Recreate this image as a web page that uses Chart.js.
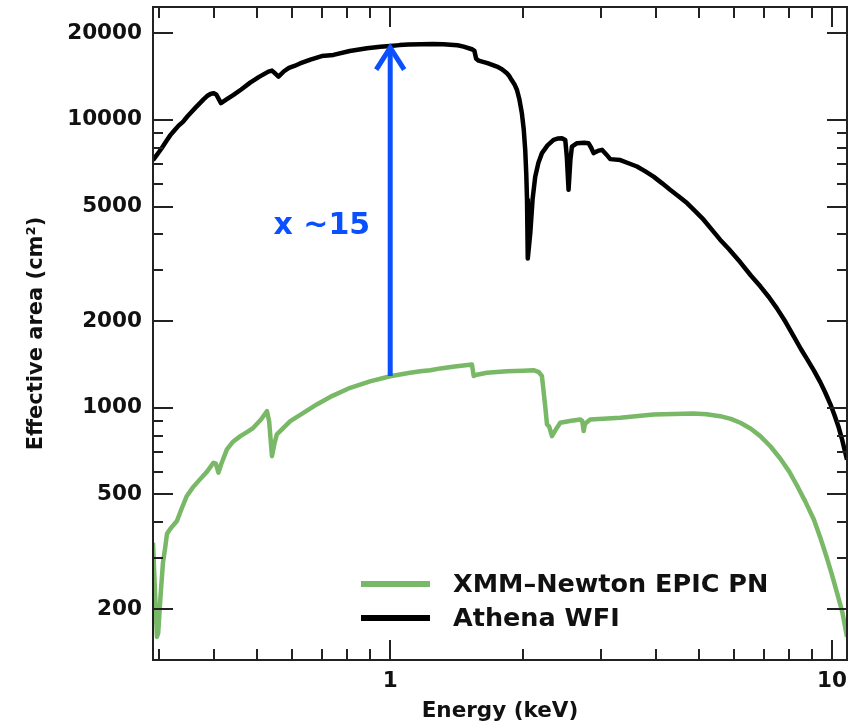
<!DOCTYPE html>
<html><head><meta charset="utf-8">
<script src="https://cdn.jsdelivr.net/npm/chart.js@4"></script>
<style>html,body{margin:0;padding:0;background:#fff}#wrap{width:856px;height:725px}</style>
</head><body><div id="wrap"><canvas id="c" width="856" height="725"></canvas></div>
<script>
// ---- data ----
const athenaEnergy = [0.2905,0.295,0.30,0.306,0.312,0.318,0.325,0.332,0.340,0.347,0.355,0.363,0.371,0.378,0.385,0.392,0.398,0.404,0.414,0.427,0.442,0.46,0.482,0.505,0.530,0.540,0.545,0.5587,0.575,0.59,0.607,0.625,0.66,0.70,0.744,0.81,0.886,0.95,1.0,1.05,1.1,1.17,1.25,1.32,1.367,1.42,1.466,1.531,1.55,1.565,1.585,1.66,1.744,1.79,1.837,1.86,1.88,1.91,1.936,1.96,1.986,2.005,2.021,2.032,2.04,2.048,2.056,2.075,2.10,2.129,2.165,2.205,2.27,2.343,2.40,2.447,2.49,2.51,2.533,2.557,2.578,2.647,2.75,2.81,2.85,2.886,2.95,3.015,3.08,3.148,3.317,3.45,3.618,3.78,3.945,4.12,4.30,4.5,4.696,4.9,5.12,5.35,5.58,5.84,6.20,6.55,6.88,7.2,7.51,7.85,8.19,8.5,8.78,9.1,9.41,9.65,9.91,10.12,10.35,10.55,10.81];
const athenaArea   = [7250,7480,7750,8100,8480,8850,9200,9550,9860,10250,10650,11050,11430,11780,12100,12300,12380,12250,11430,11800,12210,12750,13470,14100,14710,14830,14650,14130,14750,15150,15390,15700,16200,16650,16810,17350,17730,17950,18060,18180,18260,18320,18330,18300,18250,18150,17960,17590,17400,16300,16060,15750,15310,15000,14520,14200,13800,13300,12700,11800,10550,9300,7870,6500,5280,3300,3500,4045,5300,6350,7100,7665,8150,8520,8620,8640,8520,7460,5715,7250,8080,8300,8330,8300,8000,7665,7800,7870,7600,7305,7250,7080,6885,6620,6350,6030,5715,5420,5140,4820,4500,4150,3835,3560,3200,2880,2641,2420,2210,1985,1770,1600,1475,1345,1225,1130,1030,945,855,770,660];
const xmmEnergy = [0.2905,0.2935,0.2965,0.2985,0.302,0.306,0.3094,0.3125,0.318,0.329,0.337,0.3465,0.358,0.371,0.385,0.398,0.403,0.4086,0.415,0.427,0.44,0.458,0.475,0.49,0.51,0.526,0.532,0.540,0.548,0.554,0.594,0.64,0.682,0.74,0.812,0.9,1.0,1.1,1.169,1.232,1.3,1.40,1.531,1.545,1.56,1.655,1.837,2.0,2.11,2.17,2.205,2.243,2.264,2.29,2.323,2.37,2.426,2.55,2.69,2.72,2.74,2.76,2.836,3.317,3.945,4.86,5.2,5.58,5.9,6.20,6.55,6.88,7.25,7.64,8.0,8.33,8.7,9.09,9.4,9.74,10.0,10.26,10.55,10.81];
const xmmArea   = [340,230,160,165,220,290,325,365,380,404,445,494,530,564,600,644,640,595,640,717,760,797,825,852,910,973,900,679,760,808,899,965,1027,1100,1173,1235,1287,1320,1339,1350,1370,1390,1413,1290,1300,1323,1339,1345,1350,1330,1287,1013,875,860,797,840,887,900,911,900,830,880,911,923,948,955,950,935,915,887,845,797,735,665,600,537,472,410,355,300,262,228,195,160];
const xMajorTicks = [1, 10];
const xMinorTicks = [0.3,0.4,0.5,0.6,0.7,0.8,0.9,2,3,4,5,6,7,8,9];
const yMajorTicks = [200,500,1000,2000,5000,10000,20000];
const yMinorTicks = [300,400,600,700,800,900,3000,4000,6000,7000,8000,9000];
const seriesLabels = ['XMM\u2013Newton EPIC PN', 'Athena WFI'];
const ratioArrow = [1, 1290, 18100];   // energy, lower area, upper area
const ratioLabel = 'x ~15';
const ratioLabelArea = 4255;

// ---- styles ----
const FONT = '"DejaVu Sans", Verdana, sans-serif';
const GREEN = '#78b866';
const BLUE = '#0b50ff';

const extras = {
  id: 'extras',
  afterDraw(chart) {
    const {ctx, chartArea: a, scales: {x, y}} = chart;
    ctx.save();
    ctx.strokeStyle = '#222'; ctx.lineWidth = 2;
    ctx.strokeRect(a.left, a.top, a.right - a.left, a.bottom - a.top);
    const tick = (x1, y1, x2, y2) => { ctx.beginPath(); ctx.moveTo(x1, y1); ctx.lineTo(x2, y2); ctx.stroke(); };
    const drawX = (vals, len) => vals.forEach(v => { const p = Math.round(x.getPixelForValue(v));
      tick(p, a.bottom, p, a.bottom - len); tick(p, a.top, p, a.top + len); });
    const drawY = (vals, len) => vals.forEach(v => { const p = Math.round(y.getPixelForValue(v));
      tick(a.left, p, a.left + len, p); tick(a.right, p, a.right - len, p); });
    drawX(xMajorTicks, 20); drawX(xMinorTicks, 11);
    drawY(yMajorTicks, 20); drawY(yMinorTicks, 10);
    // ratio arrow
    const px = x.getPixelForValue(ratioArrow[0]);
    const yFrom = y.getPixelForValue(ratioArrow[1]);
    const yTo = y.getPixelForValue(ratioArrow[2]);
    ctx.strokeStyle = BLUE; ctx.lineWidth = 5; ctx.lineCap = 'butt'; ctx.lineJoin = 'miter';
    tick(px, yFrom, px, yTo + 2);
    ctx.beginPath(); ctx.moveTo(px - 14, yTo + 24); ctx.lineTo(px, yTo + 2); ctx.lineTo(px + 14, yTo + 24); ctx.stroke();
    ctx.fillStyle = BLUE; ctx.font = 'bold 30px ' + FONT; ctx.textAlign = 'right'; ctx.textBaseline = 'middle';
    ctx.fillText(ratioLabel, px - 20, y.getPixelForValue(ratioLabelArea));
    // legend
    const ds = chart.data.datasets;
    const lx0 = a.left + 208, lx1 = a.left + 277, tx = a.left + 300;
    const rows = [a.bottom - 76, a.bottom - 42];
    ds.forEach((d, i) => {
      ctx.strokeStyle = d.borderColor; ctx.lineWidth = 6;
      tick(lx0, rows[i], lx1, rows[i]);
      ctx.fillStyle = '#111'; ctx.font = 'bold 25.5px ' + FONT; ctx.textAlign = 'left'; ctx.textBaseline = 'middle';
      ctx.fillText(d.label, tx, rows[i] + 1);
    });
    ctx.restore();
  }
};

new Chart(document.getElementById('c'), {
  type: 'line',
  data: { datasets: [
    { label: seriesLabels[0], data: xmmEnergy.map((e, i) => ({x: e, y: xmmArea[i]})),
      borderColor: GREEN, borderWidth: 4.5, pointRadius: 0, tension: 0, fill: false, borderJoinStyle: 'round' },
    { label: seriesLabels[1], data: athenaEnergy.map((e, i) => ({x: e, y: athenaArea[i]})),
      borderColor: '#000', borderWidth: 4.5, pointRadius: 0, tension: 0, fill: false, borderJoinStyle: 'round' }
  ]},
  options: {
    responsive: false, animation: false,
    layout: { padding: { top: 7, right: 9, left: 0, bottom: 1 } },
    plugins: { legend: { display: false }, tooltip: { enabled: false } },
    scales: {
      x: { type: 'logarithmic', min: 0.2905, max: 10.81,
        grid: { display: false, drawTicks: false }, border: { display: false },
        afterBuildTicks: s => { s.ticks = xMajorTicks.map(v => ({value: v})); },
        afterFit: s => { s.height = 64; s.paddingLeft = 0; s.paddingRight = 0; },
        ticks: { autoSkip: false, maxRotation: 0, padding: 9, color: '#111',
          font: { family: FONT, size: 21.5, weight: 'bold' }, callback: v => String(v) },
        title: { display: true, text: 'Energy (keV)', color: '#111', padding: { top: 0, bottom: 0 },
          font: { family: FONT, size: 21.5, weight: 'bold' } }
      },
      y: { type: 'logarithmic', min: 133, max: 24660,
        grid: { display: false, drawTicks: false }, border: { display: false },
        afterBuildTicks: s => { s.ticks = yMajorTicks.map(v => ({value: v})); },
        afterFit: s => { s.width = 153; s.paddingTop = 0; s.paddingBottom = 0; },
        ticks: { autoSkip: false, padding: 11, color: '#111',
          font: { family: FONT, size: 21.5, weight: 'bold' }, callback: v => String(v) },
        title: { display: true, text: 'Effective area (cm\u00b2)', color: '#111', padding: { top: 24, bottom: 0 },
          font: { family: FONT, size: 21, weight: 'bold' } }
      }
    }
  },
  plugins: [extras]
});
</script></body></html>
